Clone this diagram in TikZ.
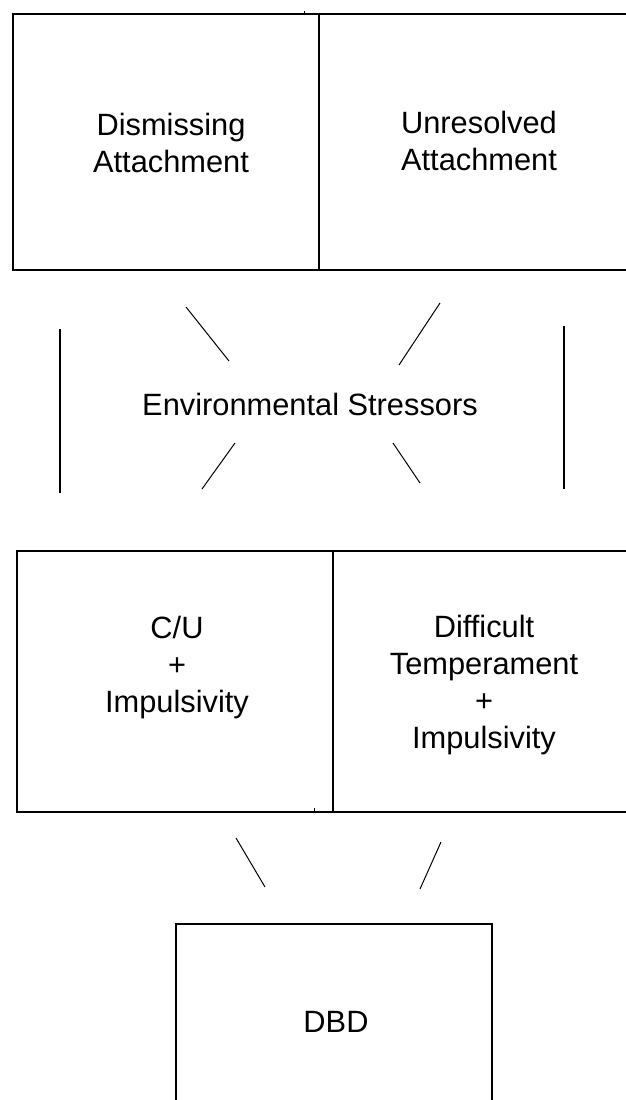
\documentclass[tikz,border=0pt]{standalone}
\usepackage{fontspec}
\setmainfont{Liberation Sans}
\usepackage{tikz}
\usetikzlibrary{positioning}

\begin{document}
\begin{tikzpicture}[x={(1pt,0pt)},y={(0pt,-1pt)},
  box/.style={draw, rectangle, line width=1.2pt, inner sep=0pt, outer sep=0pt, anchor=north west},
  txt/.style={align=center, inner sep=0pt, font=\fontsize{30.8}{37}\selectfont},
  stroke/.style={line width=1pt}]
% model
\useasboundingbox (0,0) rectangle (626,1100);

\node[box, minimum width=306, minimum height=256] (dism) at (13,14) {};
\node[box, minimum width=320, minimum height=256] (unres) at (319,14) {};
\node[txt, anchor=north] (dismtxt) at (171,113) {Dismissing\\Attachment};
\node[txt, anchor=north] (unrestxt) at (479,111) {Unresolved\\Attachment};
\draw[stroke] (304,11) -- (304,14);

\node[txt, anchor=base] (env) at (310,415) {Environmental Stressors};
\draw[line width=1.2pt] (60,329) -- (60,493) (564,326) -- (564,489);
\draw[stroke] (186,307) -- (229,361) (440,303) -- (399,365);
\draw[stroke] (235,443) -- (202,489) (393,443) -- (420,483);

\node[box, minimum width=316, minimum height=261] (cu) at (17,551) {};
\node[box, minimum width=300, minimum height=261] (diff) at (333,551) {};
\node[txt, anchor=north] (cutxt) at (177,616) {C/U\\+\\Impulsivity};
\node[txt, anchor=north] (difftxt) at (484,615) {Difficult\\Temperament\\+\\Impulsivity};
\draw[stroke] (314,808) -- (314,811);

\draw[stroke] (236,838) -- (265,887) (441,842) -- (420,889);
\node[box, minimum width=316, minimum height=200] (dbd) at (176,924) {};
\node[txt, anchor=base] (dbdtxt) at (336,1032) {DBD};
\end{tikzpicture}
\end{document}
